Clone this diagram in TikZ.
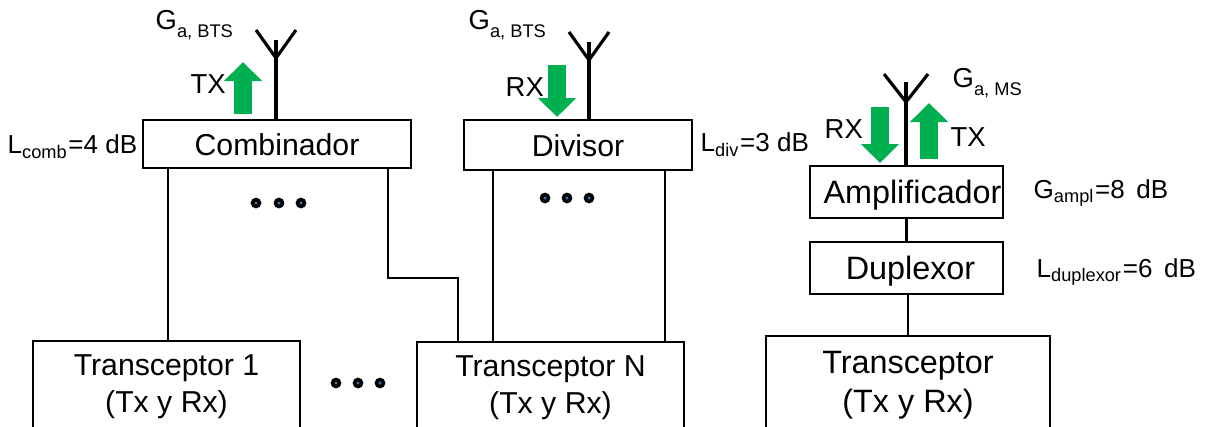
\documentclass[tikz,border=0pt]{standalone}
\usepackage{fontspec}
\setmainfont{Liberation Sans}
\usepackage{xcolor}
\usetikzlibrary{arrows.meta, positioning, calc}
\definecolor{arrowgreen}{RGB}{0,176,80}
\definecolor{dotblue}{RGB}{60,110,170}
\newcommand{\gaintext}[1]{G\raisebox{-0.5ex}{\fontsize{5.2}{6}\selectfont #1}}

\begin{document}
\begin{tikzpicture}[
    x=0.01cm,
    y=-0.01cm,
    % Styles for the blocks and wires
    block/.style={draw=black, line width=0.45pt, inner sep=0pt, font=\fontsize{8.6}{10.6}\selectfont, align=center},
    bigblock/.style={block, font=\fontsize{9.2}{11}\selectfont},
    oneline/.style={text height=7.2pt, text depth=0.8pt},
    wire/.style={draw=black, line width=0.55pt},
    mast/.style={draw=black, line width=0.9pt},
    label/.style={inner sep=0pt, font=\fontsize{7.4}{9}\selectfont},
    biglabel/.style={label, font=\fontsize{7.8}{9}\selectfont},
    flow/.style={draw=arrowgreen, line width=5.3pt, -{Triangle[width=0.37cm, length=0.19cm]}},
    dot/.style={circle, draw=black, line width=1pt, fill=dotblue, inner sep=0pt, minimum size=0.07cm}
]
    \useasboundingbox (0,0) rectangle (1210,426);
    \clip (0,0) rectangle (1210,426);

    % 1. The blocks
    \node[block, oneline, minimum width=2.68cm, minimum height=0.48cm] (Comb) at (277,144) {Combinador};
    \node[block, oneline, minimum width=2.28cm, minimum height=0.50cm] (Div) at (578,145) {Divisor};
    \node[bigblock, oneline, minimum width=1.93cm, minimum height=0.52cm] (Ampl) at (906.5,192) {\hspace{0.12cm}Amplificador};
    \node[bigblock, oneline, minimum width=1.93cm, minimum height=0.52cm] (Dup) at (906.5,268) {\hspace{0.08cm}Duplexor};
    \node[block, minimum width=2.67cm, minimum height=0.92cm] (Tr1) at (166.5,387) {Transceptor 1\\(Tx y Rx)};
    \node[block, minimum width=2.67cm, minimum height=0.92cm] (TrN) at (550.5,388) {Transceptor N\\(Tx y Rx)};
    \node[bigblock, minimum width=2.84cm, minimum height=0.98cm] (Tr) at (908,385) {Transceptor\\(Tx y Rx)};

    % 2. The wires between blocks
    \coordinate (CombA) at (168,168);
    \coordinate (CombB) at (388,168);
    \coordinate (DivA) at (493,170);
    \coordinate (DivB) at (665,170);
    \coordinate (Bend) at (458,278);
    \draw[wire] (CombA) -- (CombA |- Tr1.north);
    \draw[wire] (CombB) |- (Bend) -- (Bend |- TrN.north);
    \draw[wire] (DivA) -- (DivA |- TrN.north);
    \draw[wire] (DivB) -- (DivB |- TrN.north);
    \draw[wire, line width=0.7pt] (Ampl.south) -- (Dup.north);
    \draw[mast, line width=0.75pt] (Tr.north) -- (Tr.north |- Dup.south);

    % 3. The antennas
    \foreach \name/\xa/\ya/\yb/\base/\wd in {AntA/276/58/40/120/20, AntB/589/60/42/120/20, AntC/906/102/82/166/22} {
        \coordinate (\name) at (\xa,\ya);
        \draw[mast] (\xa,\base) -- (\xa,\yb);
        \draw[mast] (\xa-\wd,\ya-28) -- (\name) -- (\xa+\wd,\ya-28);
    }

    % 4. The green arrows
    \draw[flow] (243,114) -- (243,62);
    \draw[flow] (557,65) -- (557,117);
    \draw[flow] (880,107) -- (880,163);
    \draw[flow] (929,159) -- (929,103);

    % 5. The dots
    \foreach \px/\py in {256/203, 279/203, 301/203, 545/198, 567/198, 589/198, 336/383, 358/383, 380/383} {
        \node[dot] at (\px,\py) {};
    }

    % 6. The labels
    \node[biglabel, anchor=west] (GaA) at (155,25) {\gaintext{a, BTS}};
    \node[biglabel, anchor=west] (GaB) at (468,25) {\gaintext{a, BTS}};
    \node[biglabel, anchor=west] (GaC) at (952,83) {\gaintext{a, MS}};
    \node[biglabel, anchor=west] (TxA) at (190,84) {TX};
    \node[biglabel, anchor=west] (RxB) at (505,87) {RX};
    \node[biglabel, anchor=west] (RxC) at (824,129) {RX};
    \node[biglabel, anchor=west] (TxC) at (950,137) {TX};
    \node[label, anchor=west] (LComb) at (7,147) {L\textsubscript{comb}=4 dB};
    \node[label, anchor=west] (LDiv) at (700,145) {L\textsubscript{div}=3 dB};
    \node[label, anchor=west] (GAmpl) at (1033,193) {G\textsubscript{ampl}=8\, dB};
    \node[label, anchor=west] (LDup) at (1036,272) {L\textsubscript{duplexor}=6\, dB};
\end{tikzpicture}
\end{document}
